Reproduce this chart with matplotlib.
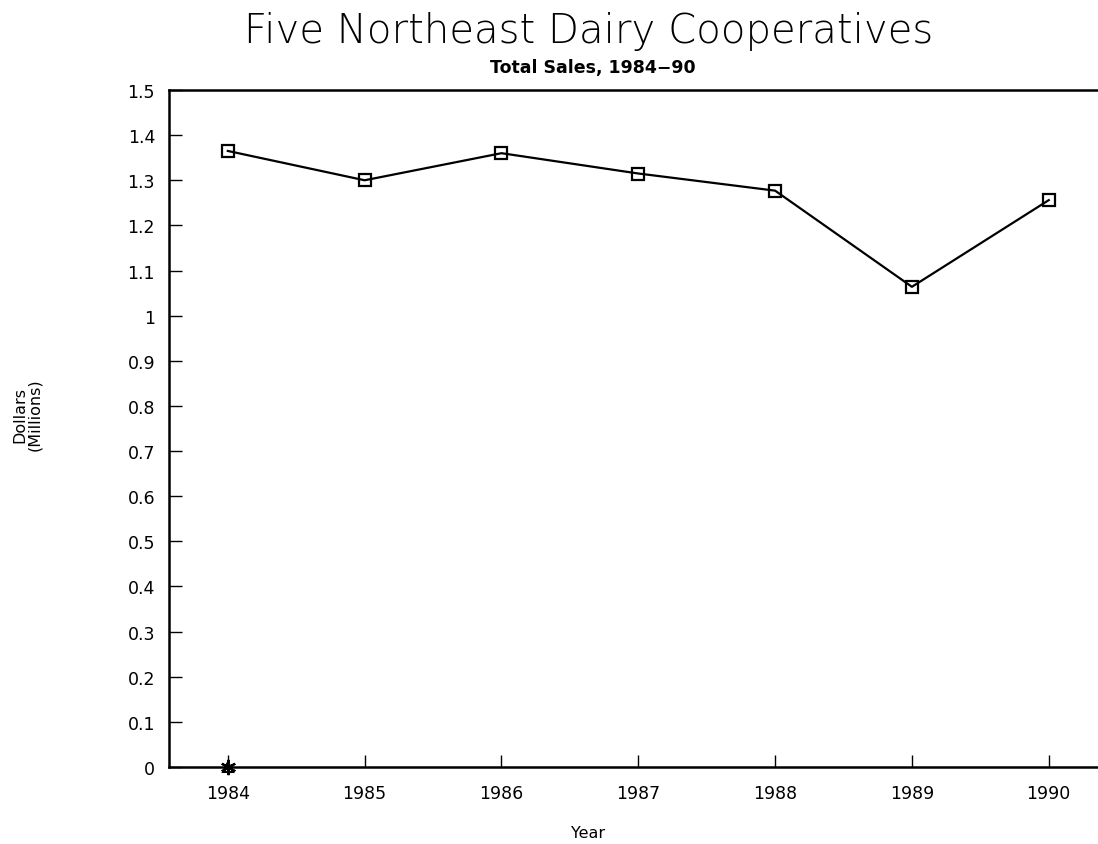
import matplotlib.pyplot as plt

years = [1984, 1985, 1986, 1987, 1988, 1989, 1990]
sales = [1.365, 1.30, 1.36, 1.315, 1.277, 1.064, 1.256]
yticks = [0, 0.1, 0.2, 0.3, 0.4, 0.5, 0.6, 0.7, 0.8, 0.9, 1, 1.1, 1.2, 1.3, 1.4, 1.5]
ytick_labels = ["0", "0.1", "0.2", "0.3", "0.4", "0.5", "0.6", "0.7", "0.8", "0.9",
                "1", "1.1", "1.2", "1.3", "1.4", "1.5"]
# stray marker sitting on the baseline at 1984
other_years = [1984]
other_vals = [0]

plt.rcParams['font.family'] = ['DejaVu Sans']

fig = plt.figure(figsize=(10.98, 8.45), dpi=100)
ax = fig.add_axes([0.1539, 0.0911, 0.8461, 0.8012])

ax.plot(years, sales, color='black', lw=1.6, marker='s', ms=8,
        mfc='none', mec='black', mew=1.6)
ax.plot(other_years, other_vals, marker='^', ms=7, mfc='white', mec='black',
        mew=1.5, ls='none', clip_on=False, zorder=5)
ax.plot(other_years, other_vals, marker=(6, 2, 0), ms=11, color='black', mew=1.6,
        ls='none', clip_on=False, zorder=6)

ax.set_xlim(1983.57, 1990.36)
ax.set_ylim(0, 1.5)
ax.set_xticks(years)
ax.set_yticks(yticks)
ax.set_yticklabels(ytick_labels)
ax.tick_params(direction='in', length=9, width=1, labelsize=12.5, pad=10)
ax.tick_params(axis='x', pad=12)

ax.spines['right'].set_visible(False)
for s in ['left', 'top', 'bottom']:
    ax.spines[s].set_linewidth(1.8)

ax.set_xlabel('Year', fontsize=11.5, va='center')
ax.xaxis.set_label_coords(0.451, -0.096)
fig.text(0.025, 0.509, 'Dollars\n(Millions)', rotation=90, ha='center', va='center',
         fontsize=11.5, linespacing=1.0)

fig.text(0.536, 0.963, 'Five Northeast Dairy Cooperatives', ha='center', va='center',
         fontsize=29, fontweight='light')
fig.text(0.54, 0.919, 'Total Sales, 1984\u221290', ha='center', va='center',
         fontsize=12.5, fontweight='semibold')

fig.savefig('out.png', dpi=100)
